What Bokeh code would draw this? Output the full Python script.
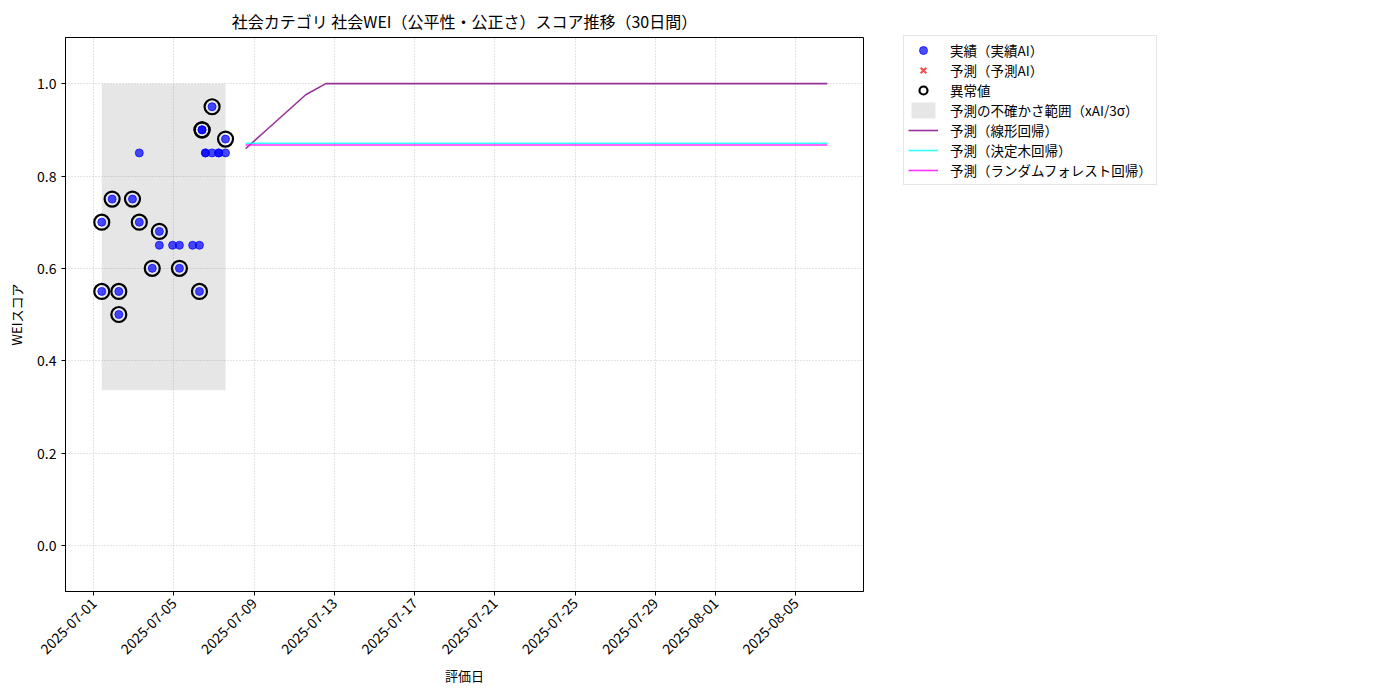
import pandas as pd
from bokeh.plotting import figure
from bokeh.models import (ColumnDataSource, Range1d, FixedTicker, DatetimeTickFormatter,
                          Legend, LegendItem, PrintfTickFormatter)
from bokeh.embed import file_html
from bokeh.resources import INLINE
import math

FONT = "Noto Sans CJK JP"

# ---- data ----
actual_dates = ["2025-07-01 09:36", "2025-07-01 09:36", "2025-07-01 22:00", "2025-07-02 06:00",
                "2025-07-02 06:00", "2025-07-02 22:20", "2025-07-03 06:30", "2025-07-03 06:30",
                "2025-07-03 22:00", "2025-07-04 06:30", "2025-07-04 06:30", "2025-07-04 22:20",
                "2025-07-05 06:30", "2025-07-05 06:30", "2025-07-05 22:20", "2025-07-06 06:30",
                "2025-07-06 06:30", "2025-07-06 09:36", "2025-07-06 09:36", "2025-07-06 13:40",
                "2025-07-06 13:40", "2025-07-06 21:36", "2025-07-06 21:36", "2025-07-07 05:30",
                "2025-07-07 05:30", "2025-07-07 13:40", "2025-07-07 13:40"]
actual_values = [0.55, 0.70, 0.75, 0.55,
                 0.50, 0.75, 0.85, 0.70,
                 0.60, 0.68, 0.65, 0.65,
                 0.65, 0.60, 0.65, 0.65,
                 0.55, 0.90, 0.90, 0.85,
                 0.85, 0.85, 0.95, 0.85,
                 0.85, 0.85, 0.88]
anomaly_flags = [1, 1, 1, 1,
                 1, 1, 0, 1,
                 1, 1, 0, 0,
                 0, 1, 0, 0,
                 1, 1, 1, 0,
                 0, 0, 1, 0,
                 0, 0, 1]

# the "予測AI" series has no values in this period
pred_ai_dates = ["2025-07-01 09:36"]
pred_ai_values = [float("nan")]

band_lower = 0.336
band_upper = 1.0

forecast_start = "2025-07-08 13:40"
forecast_days = 30
linear_pred = [0.859, 0.898, 0.937, 0.976, 1.0, 1.0, 1.0, 1.0, 1.0, 1.0,
               1.0, 1.0, 1.0, 1.0, 1.0, 1.0, 1.0, 1.0, 1.0, 1.0,
               1.0, 1.0, 1.0, 1.0, 1.0, 1.0, 1.0, 1.0, 1.0, 1.0]
tree_pred = [0.871] * 30
forest_pred = [0.867] * 30

x_tick_labels = ["2025-07-01", "2025-07-05", "2025-07-09", "2025-07-13", "2025-07-17",
                 "2025-07-21", "2025-07-25", "2025-07-29", "2025-08-01", "2025-08-05"]
y_ticks = [0.0, 0.2, 0.4, 0.6, 0.8, 1.0]

title_text = "社会カテゴリ 社会WEI（公平性・公正さ）スコア推移（30日間）"

# ---- build ----
a_dates = pd.to_datetime(actual_dates)
f_dates = pd.date_range(forecast_start, periods=forecast_days, freq="D")

src_all = ColumnDataSource(dict(x=a_dates, y=actual_values))
an_x = [d for d, f in zip(a_dates, anomaly_flags) if f]
an_y = [v for v, f in zip(actual_values, anomaly_flags) if f]
src_an = ColumnDataSource(dict(x=an_x, y=an_y))
src_pred = ColumnDataSource(dict(x=pd.to_datetime(pred_ai_dates), y=pred_ai_values))
src_fc = ColumnDataSource(dict(x=f_dates, lin=linear_pred, tree=tree_pred, forest=forest_pred))
src_band = ColumnDataSource(dict(x=[a_dates.min(), a_dates.max()],
                                 lo=[band_lower, band_lower], hi=[band_upper, band_upper]))

xmin = min(a_dates.min(), f_dates.min())
xmax = max(a_dates.max(), f_dates.max())
pad = (xmax - xmin) * 0.05

FW, FH = 798, 554
p = figure(x_axis_type="datetime", output_backend="svg", toolbar_location=None,
           frame_width=FW, frame_height=FH,
           min_border_left=65, min_border_top=37, min_border_right=520, min_border_bottom=100,
           x_range=Range1d(xmin - pad, xmax + pad), y_range=Range1d(-0.1, 1.1),
           background_fill_color="white", border_fill_color="white")

p.title.text = title_text
p.title.text_font = FONT
p.title.text_font_size = "16px"
p.title.text_font_style = "normal"
p.title.align = "center"
p.title.text_color = "black"

band = p.varea(x="x", y1="lo", y2="hi", source=src_band, fill_color="gray", fill_alpha=0.2)
r_act = p.scatter("x", "y", source=src_all, marker="circle", size=8,
                  fill_color="blue", line_color="blue", fill_alpha=0.7, line_alpha=0.7)
r_pred = p.scatter("x", "y", source=src_pred, marker="x", size=12,
                   line_color="red", line_alpha=0.7, line_width=2)
r_an = p.scatter("x", "y", source=src_an, marker="circle", size=15,
                 fill_color=None, line_color="black", line_width=2.2)
r_lin = p.line("x", "lin", source=src_fc, line_color="purple", line_alpha=0.8, line_width=1.6)
r_tree = p.line("x", "tree", source=src_fc, line_color="cyan", line_alpha=0.8, line_width=1.6)
r_for = p.line("x", "forest", source=src_fc, line_color="magenta", line_alpha=0.8, line_width=1.6)

# axes
tick_ms = [pd.Timestamp(t).value // 10**6 for t in x_tick_labels]
p.xaxis.ticker = FixedTicker(ticks=tick_ms)
p.xaxis.formatter = DatetimeTickFormatter(days="%Y-%m-%d", months="%Y-%m-%d", hours="%Y-%m-%d")
p.xaxis.major_label_orientation = math.pi / 4
p.yaxis.ticker = FixedTicker(ticks=y_ticks)
p.yaxis.formatter = PrintfTickFormatter(format="%.1f")
p.xaxis.axis_label = "評価日"
p.yaxis.axis_label = "WEIスコア"
for ax in (p.xaxis, p.yaxis):
    ax.axis_label_text_font = FONT
    ax.axis_label_text_font_size = "13px"
    ax.axis_label_text_font_style = "normal"
    ax.axis_label_text_color = "black"
    ax.major_label_text_font = FONT
    ax.major_label_text_font_size = "14px"
    ax.major_label_text_color = "black"
    ax.axis_line_color = "black"
    ax.major_tick_line_color = "black"
    ax.major_tick_in = 0
    ax.major_tick_out = 4
    ax.minor_tick_line_color = None
p.xaxis.axis_label_standoff = 4
p.yaxis.axis_label_standoff = 8

p.outline_line_color = "black"
p.outline_line_alpha = 1
p.grid.grid_line_color = "#b0b0b0"
p.grid.grid_line_alpha = 0.7
p.grid.grid_line_dash = "1 2"
p.xgrid.ticker = p.xaxis.ticker
p.ygrid.ticker = p.yaxis.ticker

legend = Legend(items=[
    LegendItem(label="実績（実績AI）", renderers=[r_act]),
    LegendItem(label="予測（予測AI）", renderers=[r_pred]),
    LegendItem(label="異常値", renderers=[r_an]),
    LegendItem(label="予測の不確かさ範囲（xAI/3σ）", renderers=[band]),
    LegendItem(label="予測（線形回帰）", renderers=[r_lin]),
    LegendItem(label="予測（決定木回帰）", renderers=[r_tree]),
    LegendItem(label="予測（ランダムフォレスト回帰）", renderers=[r_for]),
])
legend.label_text_font = FONT
legend.label_text_font_size = "13.5px"
legend.label_text_color = "black"
legend.spacing = 0
legend.label_height = 20
legend.glyph_height = 20
legend.glyph_width = 30
legend.label_standoff = 12
legend.padding = 4
legend.margin = 0
legend.border_line_color = "#cccccc"
legend.border_line_width = 1
legend.background_fill_alpha = 1
LEG_H = 7 * 20 + 2 * 4
legend.location = (40, FH - LEG_H)
p.add_layout(legend, "right")

open("out.html", "w").write(file_html(p, INLINE))
